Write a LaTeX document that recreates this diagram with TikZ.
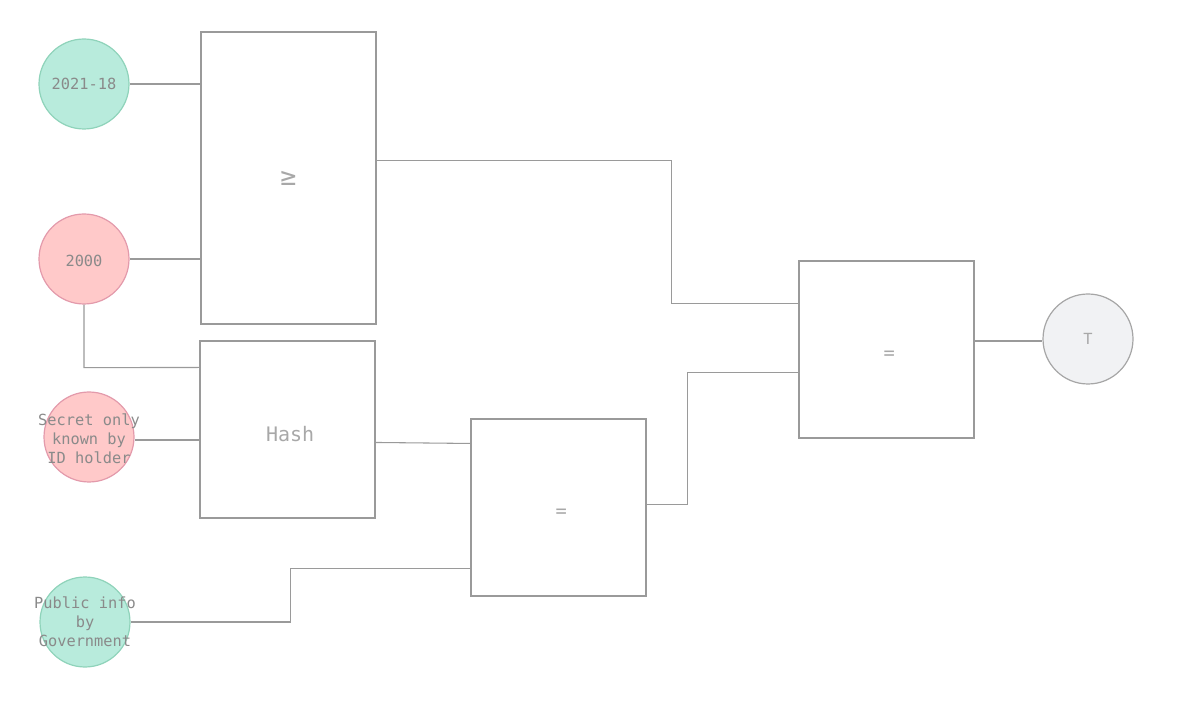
\documentclass[tikz,border=0pt]{standalone}
\usepackage{fontspec}
\setmonofont{DejaVu Sans Mono}
\usetikzlibrary{calc,positioning}
\definecolor{mint}{HTML}{B8EBDC}
\definecolor{mintline}{HTML}{8FD3BA}
\definecolor{rose}{HTML}{FFC9C9}
\definecolor{roseline}{HTML}{E39AAB}
\definecolor{pale}{HTML}{F1F2F4}
\definecolor{wirec}{HTML}{9A9A9A}
\definecolor{valink}{HTML}{8A8A8A}
\definecolor{gateink}{HTML}{A8A8A8}
\tikzset{
    wire/.style={draw=wirec, line width=0.8pt},
    val/.style={circle, minimum size=67.5pt, inner sep=0pt, line width=0.9pt},
    valtext/.style={font=\ttfamily\fontsize{11.5}{14.25}\selectfont, text=valink, align=center, inner sep=0pt},
    gate/.style={draw=wirec, line width=0.8pt, minimum width=131.25pt, inner sep=0pt},
    gatetext/.style={font=\ttfamily\fontsize{14}{16}\selectfont, text=gateink, inner sep=0pt},
}
\begin{document}
\begin{tikzpicture}[x=0.75pt, y=-0.75pt]
    \useasboundingbox (0,0) rectangle (1178,712);

    % inputs
    \node[val, fill=mint, draw=mintline, label={[valtext]center:2021-18}] (age) at (84,84) {};
    \node[val, fill=rose, draw=roseline, label={[valtext, yshift=-1.5pt]center:2000}] (birth) at (84,259) {};
    \node[val, fill=rose, draw=roseline, label={[valtext, yshift=-1.5pt]center:{Secret only\\known by\\ID holder}}] (secret) at (89,437) {};
    \node[val, fill=mint, draw=mintline, label={[valtext]center:{Public info\\by\\Government}}] (gov) at (85,622) {};

    % gates
    \node[gate, minimum height=219pt, label={[gatetext, font=\ttfamily\fontsize{20}{22}\selectfont]center:≥}] (ge) at (288.5,178) {};
    \node[gate, minimum height=132.75pt, label={[gatetext, font=\ttfamily\fontsize{15}{17}\selectfont, xshift=2pt, yshift=-3.5pt]center:Hash}] (hash) at (287.5,429.5) {};
    \node[gate, minimum height=132.75pt, label={[gatetext, xshift=2pt, yshift=-4.5pt]center:=}] (eqa) at (558.5,507.5) {};
    \node[gate, minimum height=132.75pt, label={[gatetext, xshift=2pt, yshift=-4pt]center:=}] (eqb) at (886.5,349.5) {};

    % output
    \node[val, fill=pale, draw=gray!70, label={[valtext, text=gateink]center:T}] (out) at (1088,339) {};

    \draw[wire] (age.east) -- (age.east -| ge.west);
    \draw[wire] (birth.east) -- (birth.east -| ge.west);
    \draw[wire] (birth.south) -- ++(0,63) -- ($(hash.north west)+(0,27)$);
    \draw[wire] ($(secret.east)+(0,3)$) -- ($(hash.west |- secret.east)+(0,3)$);
    \draw[wire] (gov.east) -- ++(160,0) |- ($(eqa.south west)+(0,-28)$);
    \draw[wire] ($(hash.north east)+(0,102)$) -- ($(eqa.north west)+(0,25)$);
    \draw[wire] ($(ge.north east)+(0,129)$) -- ++(295,0) |- ($(eqb.north west)+(0,43)$);
    \draw[wire] ($(eqa.north east)+(0,86)$) -- ++(41,0) |- ($(eqb.north west)+(0,112)$);
    \draw[wire] ($(eqb.east |- out.west)+(0,2)$) -- ($(out.west)+(0,2)$);
\end{tikzpicture}
\end{document}
